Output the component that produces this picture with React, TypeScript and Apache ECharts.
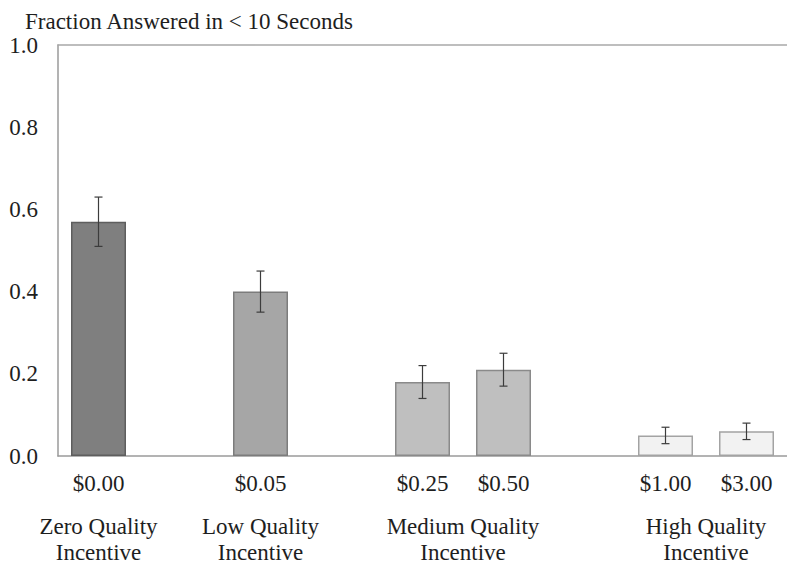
import React, { useEffect, useRef } from "react";
import * as echarts from "echarts";

// Category slots along the x axis (gap slots separate the incentive groups)
const slots = ["$0.00", "_gap1", "$0.05", "_gap2", "$0.25", "$0.50", "_gap3", "$1.00", "$3.00"];
const barLabels = ["$0.00", "$0.05", "$0.25", "$0.50", "$1.00", "$3.00"];
const barValues = [0.57, 0.4, 0.18, 0.21, 0.05, 0.06];
const barErrors = [0.06, 0.05, 0.04, 0.04, 0.02, 0.02];
const barFills = ["#7f7f7f", "#a6a6a6", "#bfbfbf", "#bfbfbf", "#f2f2f2", "#f2f2f2"];
const barBorders = ["#5e5e5e", "#7c7c7c", "#8a8a8a", "#8a8a8a", "#a3a3a3", "#a3a3a3"];
const yTicks = [0, 0.2, 0.4, 0.6, 0.8, 1.0];
const groupNames = ["Zero Quality\nIncentive", "Low Quality\nIncentive", "Medium Quality\nIncentive", "High Quality\nIncentive"];
const groupMembers = [["$0.00"], ["$0.05"], ["$0.25", "$0.50"], ["$1.00", "$3.00"]];
const titleText = "Fraction Answered in < 10 Seconds";

const FONT = "Times New Roman, Liberation Serif, serif";
const TEXT = "#1e1e1e";

export default function App() {
  const ref = useRef<HTMLDivElement>(null);
  useEffect(() => {
    if (!ref.current) return;
    const chart = echarts.init(ref.current, null, { renderer: "svg" });
    const option: any = {
      animation: false,
      backgroundColor: "#ffffff",
      textStyle: { fontFamily: FONT },
      title: {
        text: titleText,
        left: 20,
        top: 5,
        textStyle: { fontFamily: FONT, fontSize: 23, fontWeight: "normal", color: TEXT },
      },
      grid: { left: 58, top: 45, width: 733, height: 411 },
      xAxis: [
        {
          type: "category",
          data: slots,
          position: "bottom",
          axisLine: { show: true, lineStyle: { color: "#9a9a9a", width: 1.5 } },
          axisTick: { show: false },
          axisLabel: {
            interval: 0,
            margin: 16,
            fontFamily: FONT,
            fontSize: 23,
            color: TEXT,
            formatter: (v: string) => (v.startsWith("_") ? "" : v),
          },
          splitLine: { show: false },
        },
        {
          type: "category",
          data: slots,
          position: "top",
          axisLine: { show: true, lineStyle: { color: "#a8a8a8", width: 1.5 } },
          axisTick: { show: false },
          axisLabel: { show: false },
          splitLine: { show: false },
        },
      ],
      yAxis: {
        type: "value",
        min: yTicks[0],
        max: yTicks[yTicks.length - 1],
        interval: 0.2,
        axisLine: { show: true, lineStyle: { color: "#9a9a9a", width: 1.5 } },
        axisTick: { show: false },
        splitLine: { show: false },
        axisLabel: {
          margin: 20,
          fontFamily: FONT,
          fontSize: 23,
          color: TEXT,
          formatter: (v: number) => v.toFixed(1),
        },
      },
      series: [
        {
          type: "bar",
          barWidth: 55,
          data: barValues.map((v, i) => ({
            value: [barLabels[i], v],
            itemStyle: { color: barFills[i], borderColor: barBorders[i], borderWidth: 1.5 },
          })),
        },
        {
          type: "custom",
          data: barValues.map((v, i) => [barLabels[i], v, barErrors[i]]),
          z: 10,
          renderItem: (params: any, api: any) => {
            const xi = api.value(0);
            const v = api.value(1);
            const e = api.value(2);
            const top = api.coord([xi, v + e]);
            const bot = api.coord([xi, v - e]);
            const cap = 4;
            const style = { stroke: "#3c3c3c", lineWidth: 1.2 };
            return {
              type: "group",
              children: [
                { type: "line", shape: { x1: top[0], y1: top[1], x2: bot[0], y2: bot[1] }, style },
                { type: "line", shape: { x1: top[0] - cap, y1: top[1], x2: top[0] + cap, y2: top[1] }, style },
                { type: "line", shape: { x1: bot[0] - cap, y1: bot[1], x2: bot[0] + cap, y2: bot[1] }, style },
              ],
            };
          },
        },
      ],
    };
    chart.setOption(option);

    const graphics = groupNames.map((name, gi) => {
      const xs = groupMembers[gi].map((m) => chart.convertToPixel({ xAxisIndex: 0 }, m) as number);
      const cx = xs.reduce((a, b) => a + b, 0) / xs.length;
      return {
        type: "text",
        x: cx,
        y: 513,
        style: {
          text: name,
          fontFamily: FONT,
          fontSize: 23,
          lineHeight: 26,
          fill: TEXT,
          align: "center",
          verticalAlign: "top",
        },
      };
    });
    chart.setOption({ graphic: graphics });

    return () => chart.dispose();
  }, []);
  return (
    <div
      ref={ref}
      style={{ position: "absolute", left: 0, top: 0, width: 787, height: 567, overflow: "hidden" }}
    />
  );
}
